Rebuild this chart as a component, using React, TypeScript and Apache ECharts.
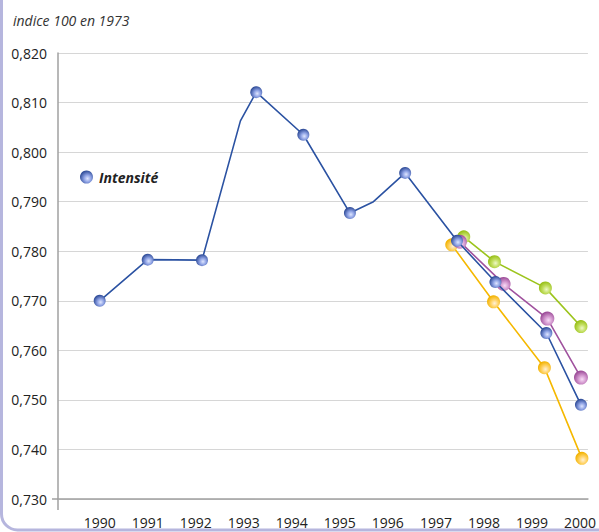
import React, { useEffect, useRef } from "react";
import * as echarts from "echarts";

const yTicks = [0.73, 0.74, 0.75, 0.76, 0.77, 0.78, 0.79, 0.8, 0.81, 0.82];
const yearLabels = [1990, 1991, 1992, 1993, 1994, 1995, 1996, 1997, 1998, 1999, 2000];

// Main series "Intensité" (x = fractional year position)
const blueYears = [1990.0, 1991.0, 1992.13, 1992.93, 1993.26, 1994.24, 1995.21, 1995.7, 1996.36, 1997.44, 1998.24, 1999.3, 2000.02];
const blueValues = [0.77, 0.7783, 0.7782, 0.8063, 0.8121, 0.8035, 0.7877, 0.79, 0.7958, 0.7821, 0.7738, 0.7635, 0.749];
const blueMarked = [true, true, true, false, true, true, true, false, true, true, true, true, true];

const greenYears = [1997.58, 1998.22, 1999.28, 2000.02];
const greenValues = [0.7829, 0.7779, 0.7726, 0.7648];

const purpleYears = [1997.5, 1998.41, 1999.32, 2000.02];
const purpleValues = [0.7819, 0.7734, 0.7664, 0.7545];

const yellowYears = [1997.33, 1998.2, 1999.26, 2000.04];
const yellowValues = [0.7813, 0.7698, 0.7565, 0.7382];

const FONT = "'Open Sans', 'Liberation Sans', Arial, sans-serif";

function grad(center: string, mid: string, edge: string) {
  return new echarts.graphic.RadialGradient(0.58, 0.62, 0.6, [
    { offset: 0, color: center },
    { offset: 0.45, color: mid },
    { offset: 1, color: edge },
  ]);
}

function makeSeries(
  name: string,
  years: number[],
  values: number[],
  line: string,
  marker: any,
  size: number,
  z: number,
  marked?: boolean[]
) {
  return {
    name,
    type: "line",
    z,
    data: years.map((x, i) => {
      const item: any = { value: [x, values[i]] };
      if (marked && !marked[i]) item.symbol = "none";
      return item;
    }),
    symbol: "circle",
    symbolSize: size,
    showSymbol: true,
    lineStyle: { color: line, width: 1.6 },
    itemStyle: { color: marker, borderWidth: 0 },
    emphasis: { disabled: true },
  };
}

export default function App() {
  const ref = useRef<HTMLDivElement>(null);
  useEffect(() => {
    if (!ref.current) return;
    const chart = echarts.init(ref.current, undefined, { renderer: "svg" });
    const blueMarker = grad("#dfe6ff", "#8ea2e4", "#2f4c98");
    const greenMarker = grad("#eef8c8", "#c4e064", "#98bf18");
    const purpleMarker = grad("#f8dcf6", "#d49ad0", "#9c4c98");
    const yellowMarker = grad("#fff0d8", "#ffd46a", "#f2b200");
    chart.setOption({
      animation: false,
      backgroundColor: "#ffffff",
      textStyle: { fontFamily: FONT },
      grid: { left: 58, right: 7, top: 53, bottom: 33, containLabel: false },
      title: {
        text: "indice 100 en 1973",
        left: 8,
        top: 8,
        textStyle: { fontFamily: FONT, fontSize: 14, fontStyle: "italic", fontWeight: "normal", color: "#333333" },
      },
      legend: {
        data: [{ name: "Intensité", icon: "circle" }],
        left: 75,
        top: 165,
        itemWidth: 15,
        itemHeight: 13,
        itemGap: 8,
        textStyle: { fontFamily: FONT, fontSize: 14, fontStyle: "italic", fontWeight: "bold", color: "#222222" },
      },
      xAxis: {
        type: "value",
        min: 1989.132,
        max: 2000.165,
        axisLine: { show: true, lineStyle: { color: "#a0a0a0", width: 1.5 } },
        axisTick: { show: false },
        splitLine: { show: false },
        axisLabel: {
          customValues: yearLabels,
          margin: 16,
          fontSize: 14,
          color: "#222222",
          fontFamily: FONT,
          formatter: (v: number) => String(Math.round(v)),
        },
      },
      yAxis: {
        type: "value",
        min: 0.73,
        max: 0.82,
        interval: 0.01,
        axisLine: { show: true, lineStyle: { color: "#a0a0a0", width: 1.5 } },
        axisTick: { show: false },
        splitLine: { show: true, lineStyle: { color: "#d6d6d6", width: 1.2 } },
        axisLabel: {
          margin: 11,
          fontSize: 14,
          color: "#222222",
          fontFamily: FONT,
          formatter: (v: number) => {
            const t = yTicks.find((k) => Math.abs(k - v) < 1e-6);
            return (t !== undefined ? t : v).toFixed(3).replace(".", ",");
          },
        },
      },
      graphic: [
        {
          type: "rect",
          shape: { x: 1.5, y: -30, width: 700, height: 560, r: 16 },
          style: { fill: "none", stroke: "#b6b6de", lineWidth: 3 },
          silent: true,
          z: 100,
        },
        {
          type: "line",
          shape: { x1: 58, y1: 499, x2: 58, y2: 510 },
          style: { stroke: "#a0a0a0", lineWidth: 1.5 },
          silent: true,
        },
        {
          type: "line",
          shape: { x1: 52, y1: 499, x2: 58, y2: 499 },
          style: { stroke: "#a0a0a0", lineWidth: 1.5 },
          silent: true,
        },
      ],
      series: [
        makeSeries("Projection 1", greenYears, greenValues, "#9cc41c", greenMarker, 13, 2),
        makeSeries("Projection 3", yellowYears, yellowValues, "#f5b800", yellowMarker, 13, 3),
        makeSeries("Projection 2", purpleYears, purpleValues, "#a0529e", purpleMarker, 14, 4),
        makeSeries("Intensité", blueYears, blueValues, "#2b52a2", blueMarker, 12, 5, blueMarked),
      ],
    });
    return () => chart.dispose();
  }, []);
  return <div ref={ref} style={{ position: "absolute", left: 0, top: 0, width: 599, height: 532 }} />;
}
